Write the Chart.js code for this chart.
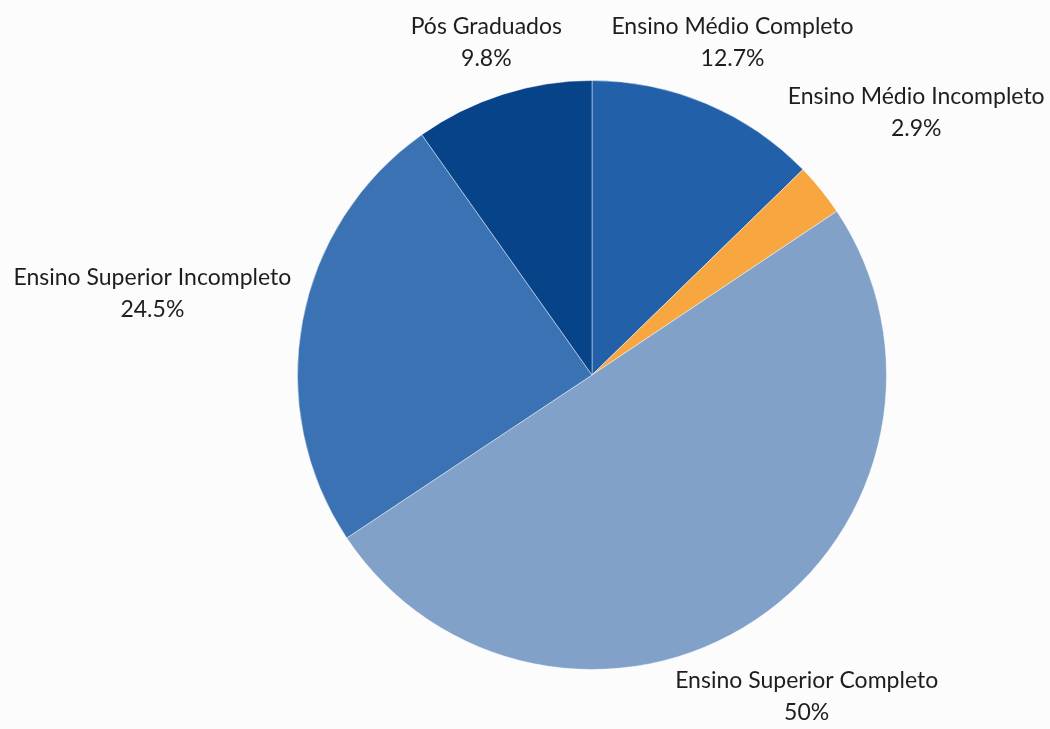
<!DOCTYPE html>
<html lang="en">
<head>
<meta charset="UTF-8">
<title>Escolaridade</title>
<script src="https://cdn.jsdelivr.net/npm/chart.js"></script>
<style>
  html, body { margin: 0; padding: 0; background: #fcfcfc; }
  #wrap { width: 1050px; height: 729px; }
</style>
</head>
<body>
<div id="wrap"><canvas id="pie"></canvas></div>
<script>
const categories = ['Ensino Médio Completo', 'Ensino Médio Incompleto', 'Ensino Superior Completo', 'Ensino Superior Incompleto', 'Pós Graduados'];
const values = [12.7, 2.9, 50, 24.5, 9.8];
const valueLabels = ['12.7%', '2.9%', '50%', '24.5%', '9.8%'];
const colors = ['#2260aa', '#f8a640', '#81a1c8', '#3a72b4', '#074389'];

const FONT = '23px Lato, "Noto Sans", sans-serif';
const LINE_GAP = 32;

// outside labels: box centre on the mid-angle ray, nearest corner just off the rim
const outsideLabels = {
  id: 'outsideLabels',
  afterDatasetsDraw(chart) {
    const ctx = chart.ctx;
    const meta = chart.getDatasetMeta(0);
    ctx.save();
    ctx.font = FONT;
    ctx.fillStyle = '#1e1e1e';
    ctx.textAlign = 'center';
    ctx.textBaseline = 'middle';
    meta.data.forEach((arc, i) => {
      const p = arc.getProps(['x', 'y', 'startAngle', 'endAngle', 'outerRadius'], true);
      const mid = (p.startAngle + p.endAngle) / 2;
      const ux = Math.cos(mid), uy = Math.sin(mid);
      const w = Math.max(ctx.measureText(categories[i]).width, ctx.measureText(valueLabels[i]).width);
      const h = 56;
      const cx = -Math.sign(ux) * w / 2, cy = -Math.sign(uy) * h / 2;
      const R = p.outerRadius + 11;
      const uc = ux * cx + uy * cy;
      const t = -uc + Math.sqrt(uc * uc - (cx * cx + cy * cy) + R * R);
      const lx = p.x + ux * t, ly = p.y + uy * t;
      ctx.fillText(categories[i], lx, ly - LINE_GAP / 2);
      ctx.fillText(valueLabels[i], lx, ly + LINE_GAP / 2);
    });
    ctx.restore();
  }
};

new Chart(document.getElementById('pie'), {
  type: 'pie',
  data: {
    labels: categories,
    datasets: [{
      data: values,
      backgroundColor: colors,
      borderColor: 'rgba(255,255,255,0.45)',
      borderWidth: 1
    }]
  },
  options: {
    responsive: true,
    maintainAspectRatio: false,
    animation: false,
    layout: { padding: { left: 230, right: 96, top: 80, bottom: 59 } },
    plugins: {
      legend: { display: false },
      tooltip: { enabled: false }
    }
  },
  plugins: [outsideLabels]
});
</script>
</body>
</html>
